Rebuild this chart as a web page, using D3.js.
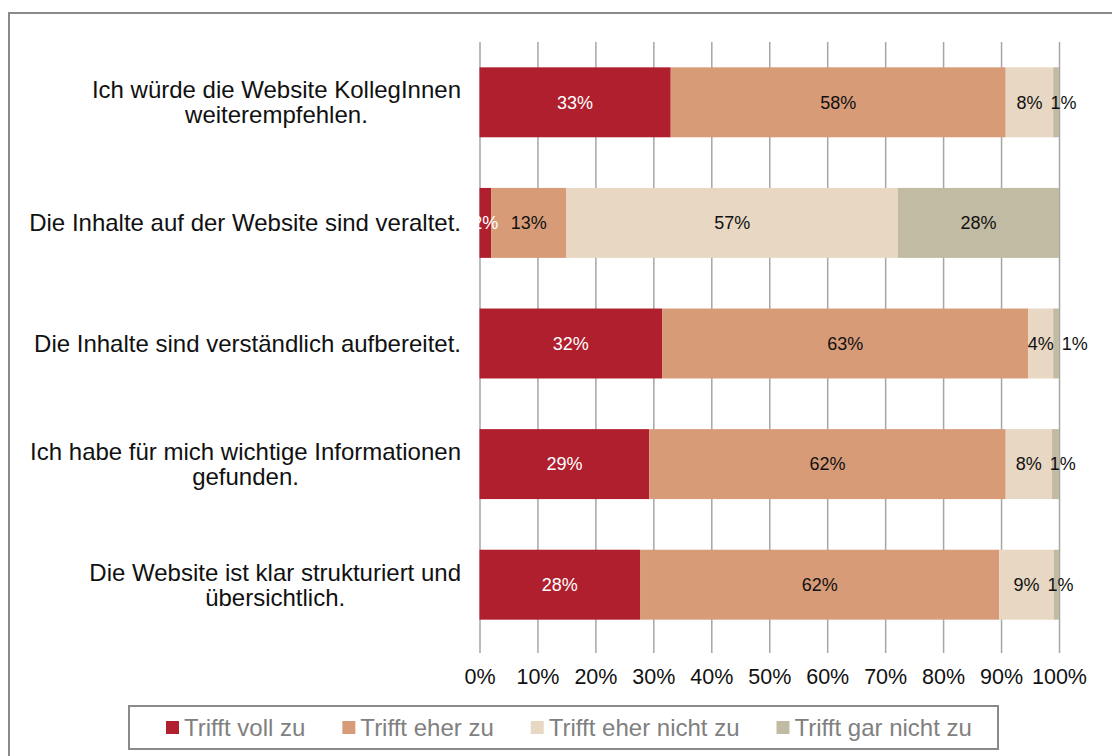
<!DOCTYPE html>
<html>
<head>
<meta charset="utf-8">
<script src="https://cdn.jsdelivr.net/npm/d3@7"></script>
<style>
  html, body { margin: 0; padding: 0; background: #fff; }
  svg { display: block; font-family: "Liberation Sans", Arial, sans-serif; }
</style>
</head>
<body>
<svg id="chart" width="1112" height="756"></svg>
<script>
// ---- data ----
const categories = [
  ["Ich würde die Website KollegInnen", "weiterempfehlen."],
  ["Die Inhalte auf der Website sind veraltet."],
  ["Die Inhalte sind verständlich aufbereitet."],
  ["Ich habe für mich wichtige Informationen", "gefunden."],
  ["Die Website ist klar strukturiert und", "übersichtlich."]
];
const seriesNames = ["Trifft voll zu", "Trifft eher zu", "Trifft eher nicht zu", "Trifft gar nicht zu"];
const trifftVollZu      = [33.0, 2.0, 31.5, 29.3, 27.7];
const trifftEherZu      = [57.8, 13.0, 63.2, 61.5, 62.0];
const trifftEherNichtZu = [8.2, 57.2, 4.3, 8.0, 9.4];
const trifftGarNichtZu  = [1.0, 27.8, 1.0, 1.2, 0.9];
const tickValues = [0, 10, 20, 30, 40, 50, 60, 70, 80, 90, 100];
const tickLabels = ["0%", "10%", "20%", "30%", "40%", "50%", "60%", "70%", "80%", "90%", "100%"];

const colors = ["#B01F2E", "#D79B78", "#E8D8C3", "#C1BBA3"];
const labelColors = ["#ffffff", "#111111", "#111111", "#111111"];

const seriesValues = [trifftVollZu, trifftEherZu, trifftEherNichtZu, trifftGarNichtZu];

// ---- layout ----
const FONT = "'Liberation Sans', Arial, sans-serif";
const svg = d3.select("#chart");
const plot = { left: 479.5, right: 1059, top: 42, bottom: 645 };

// outer frame
svg.append("rect")
  .attr("x", 9).attr("y", 13).attr("width", 1120).attr("height", 760)
  .attr("fill", "#fff").attr("stroke", "#8a8a8a").attr("stroke-width", 2);

const x = d3.scaleLinear().domain([0, 100]).range([plot.left, plot.right]);
const y = d3.scaleBand().domain(d3.range(categories.length))
  .range([plot.top, plot.bottom]).paddingInner(0.42).paddingOuter(0.21);

// gridlines via axis
const gridAxis = d3.axisBottom(x).tickValues(tickValues)
  .tickSize(-(plot.bottom - plot.top)).tickFormat("");
const grid = svg.append("g").attr("transform", `translate(0,${plot.bottom + 8})`).call(gridAxis);
grid.select(".domain").remove();
grid.selectAll(".tick line").attr("stroke", "#a6a6a6").attr("stroke-width", 1.5)
  .attr("y2", -(plot.bottom + 8 - plot.top));

// tick labels
const labelAxis = d3.axisBottom(x).tickValues(tickValues)
  .tickSize(0).tickPadding(0).tickFormat((d, i) => tickLabels[i]);
const la = svg.append("g").attr("transform", `translate(0,${plot.bottom + 24})`).call(labelAxis);
la.select(".domain").remove();
la.selectAll("text").attr("font-size", 21.5).attr("fill", "#111")
  .attr("font-family", FONT);

// stacked data
const rows = categories.map((c, i) => {
  let acc = 0;
  return seriesValues.map((s, k) => {
    const seg = { row: i, k, x0: acc, x1: acc + s[i], v: s[i] };
    acc += s[i];
    return seg;
  });
});

const barG = svg.append("g");
rows.forEach(segs => {
  barG.selectAll(null).data(segs).enter().append("rect")
    .attr("x", d => x(d.x0))
    .attr("y", d => y(d.row))
    .attr("width", d => x(d.x1) - x(d.x0))
    .attr("height", y.bandwidth())
    .attr("fill", d => colors[d.k]);
});

// data labels
const lblG = svg.append("g").attr("font-family", FONT);
rows.forEach(segs => {
  let prevEnd = -Infinity;
  segs.forEach(d => {
    const t = lblG.append("text")
      .attr("y", y(d.row) + y.bandwidth() / 2)
      .attr("dy", "0.35em")
      .attr("text-anchor", "middle")
      .attr("font-size", 18)
      .attr("fill", labelColors[d.k])
      .text(Math.round(d.v) + "%");
    const w = t.node().getComputedTextLength();
    let cx = (x(d.x0) + x(d.x1)) / 2;
    if (cx - w / 2 < prevEnd + 8) cx = prevEnd + 8 + w / 2;
    t.attr("x", cx);
    prevEnd = cx + w / 2;
  });
});

// category labels (block right-aligned, lines centered)
const catG = svg.append("g").attr("font-family", FONT);
const catRight = 461;
categories.forEach((lines, i) => {
  const cy = y(i) + y.bandwidth() / 2;
  const texts = lines.map((ln, j) => catG.append("text")
    .attr("font-size", 24).attr("fill", "#111").attr("text-anchor", "middle")
    .attr("y", cy + (j - (lines.length - 1) / 2) * 25)
    .attr("dy", "0.35em").text(ln));
  const maxW = d3.max(texts, t => t.node().getComputedTextLength());
  texts.forEach(t => t.attr("x", catRight - maxW / 2));
});

// legend
const lg = svg.append("g").attr("font-family", FONT);
lg.append("rect").attr("x", 129).attr("y", 706).attr("width", 869).attr("height", 43)
  .attr("fill", "#fff").attr("stroke", "#8a8a8a").attr("stroke-width", 2);
let lx = 166;
seriesNames.forEach((name, k) => {
  lg.append("rect").attr("x", lx).attr("y", 721).attr("width", 13).attr("height", 13)
    .attr("fill", colors[k]);
  const t = lg.append("text").attr("x", lx + 18).attr("y", 728).attr("dy", "0.35em")
    .attr("font-size", 24).attr("fill", "#808080").text(name);
  lx += 18 + t.node().getComputedTextLength() + 37;
});
</script>
</body>
</html>
